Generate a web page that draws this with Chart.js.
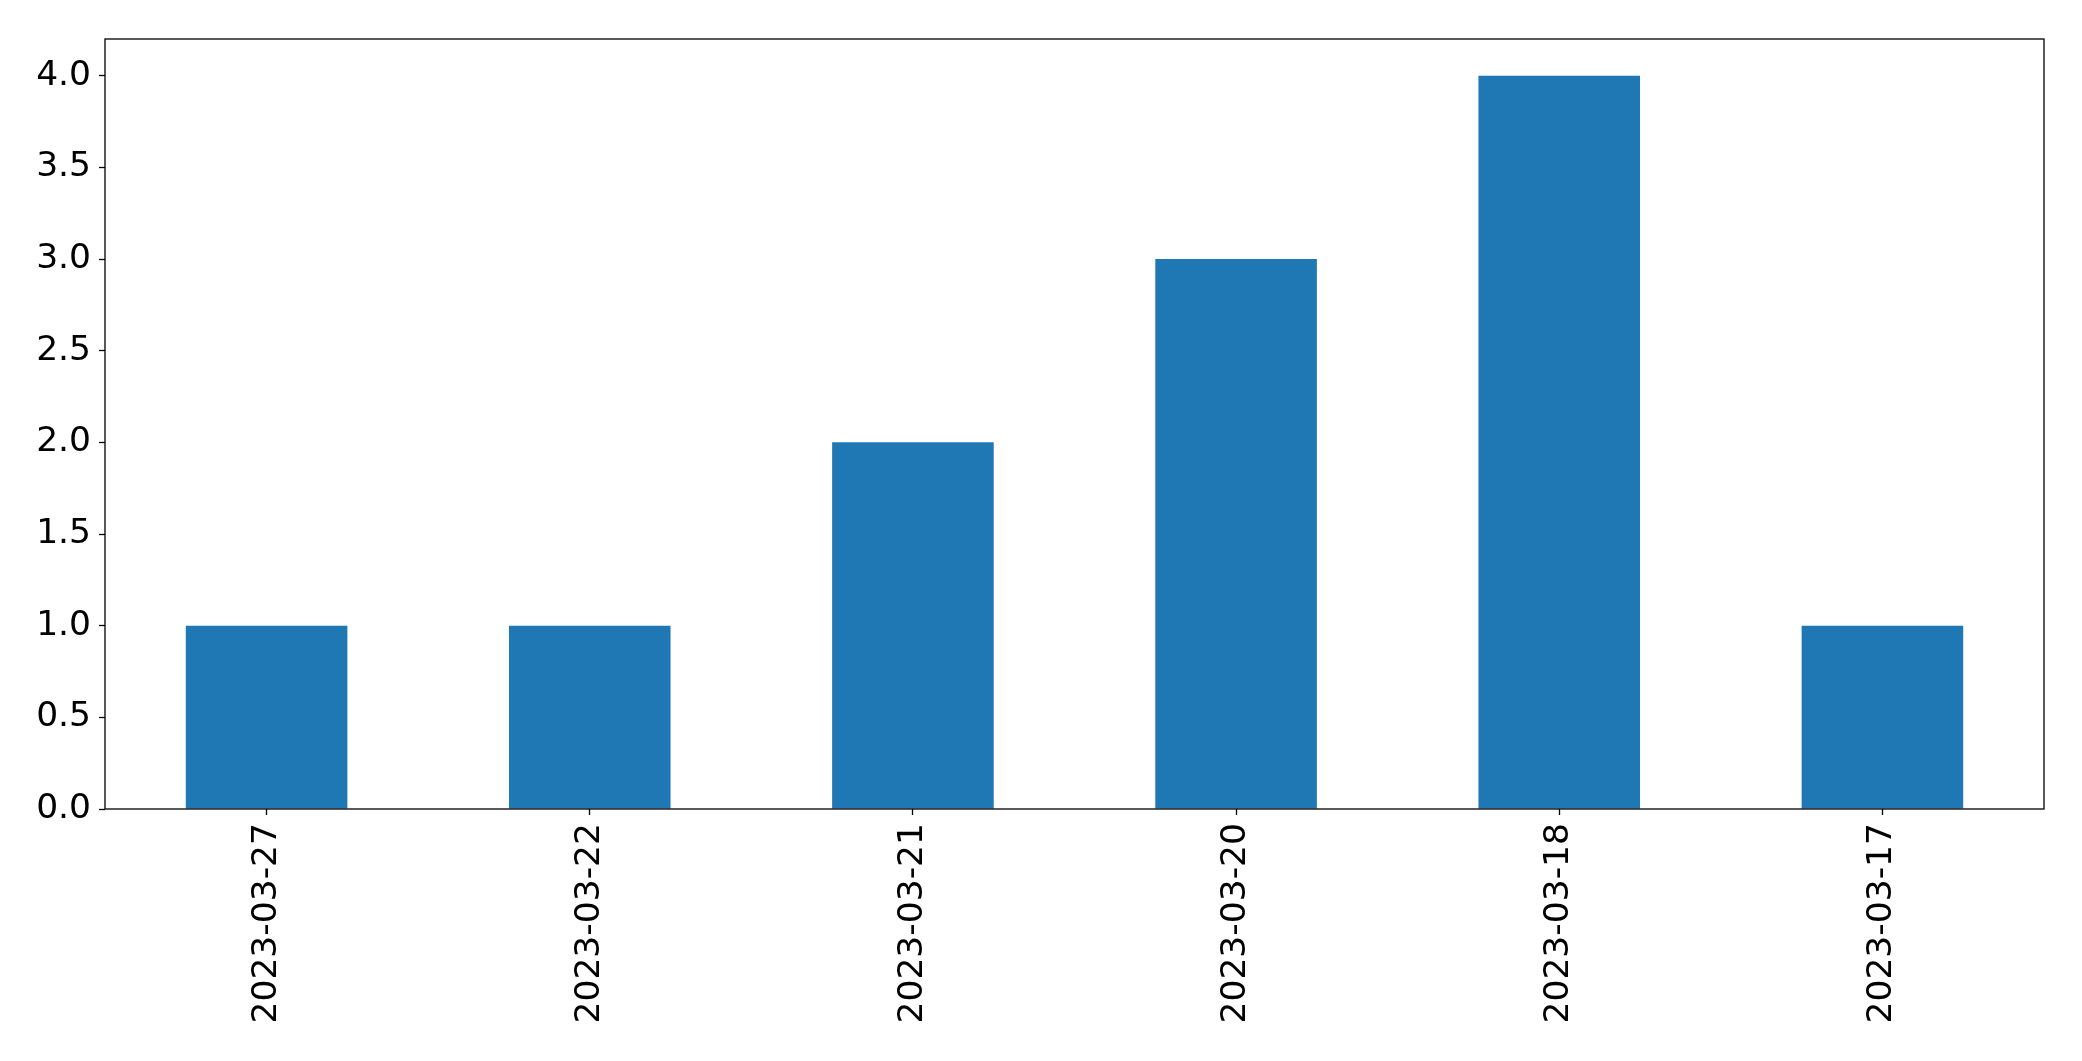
<!DOCTYPE html>
<html>
<head>
<meta charset="utf-8">
<script src="https://cdn.jsdelivr.net/npm/chart.js@4/dist/chart.umd.min.js"></script>
<style>
  html, body { margin: 0; padding: 0; background: #fff; }
  #wrap { width: 2082px; height: 1061px; }
</style>
</head>
<body>
<div id="wrap"><canvas id="barChart" width="2082" height="1061"></canvas></div>
<script>
// === DATA ===
const dates = ['2023-03-27', '2023-03-22', '2023-03-21', '2023-03-20', '2023-03-18', '2023-03-17'];
const counts = [1, 1, 2, 3, 4, 1];
const yTicks = [0, 0.5, 1, 1.5, 2, 2.5, 3, 3.5, 4];

// frame around the plot area (matplotlib spines)
const frame = {
    id: 'frame',
    afterDraw(chart) {
        const { ctx, chartArea: a } = chart;
        ctx.save();
        ctx.strokeStyle = '#000';
        ctx.lineWidth = 1.3;
        ctx.strokeRect(a.left, a.top, a.right - a.left, a.bottom - a.top);
        ctx.restore();
    }
};

const ctx = document.getElementById('barChart').getContext('2d');
new Chart(ctx, {
    type: 'bar',
    data: {
        labels: dates,
        datasets: [{ data: counts, backgroundColor: '#1f77b4', borderWidth: 0,
                     barPercentage: 0.5, categoryPercentage: 1.0 }]
    },
    options: {
        responsive: false,
        animation: false,
        layout: { padding: { top: 39, right: 38, left: 0, bottom: 0 } },
        plugins: { legend: { display: false }, tooltip: { enabled: false } },
        scales: {
            x: {
                offset: true,
                border: { display: false },
                grid: { offset: false, drawOnChartArea: false, drawTicks: true, tickLength: 6, tickWidth: 1.3, tickColor: '#000' },
                ticks: { color: '#000', font: { family: 'DejaVu Sans', size: 34.5 }, maxRotation: 90, minRotation: 90, padding: 8, autoSkip: false },
                afterFit: s => { s.height = 1061 - 809; }
            },
            y: {
                min: 0, max: 4.2,
                border: { display: false },
                grid: { drawOnChartArea: false, drawTicks: true, tickLength: 6, tickWidth: 1.3, tickColor: '#000' },
                ticks: { color: '#000', font: { family: 'DejaVu Sans', size: 34.5 }, padding: 8,
                         callback: v => Number(v).toFixed(1) },
                afterBuildTicks: s => { s.ticks = yTicks.map(v => ({ value: v })); },
                afterFit: s => { s.width = 105; }
            }
        }
    },
    plugins: [frame]
});
</script>
</body>
</html>
